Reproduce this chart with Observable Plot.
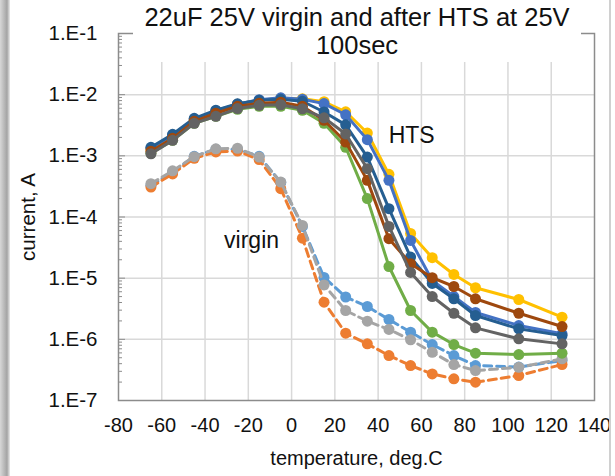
<!DOCTYPE html>
<html><head><meta charset="utf-8">
<script src="https://cdn.jsdelivr.net/npm/d3@7"></script>
<script src="https://cdn.jsdelivr.net/npm/@observablehq/plot@0.6"></script>
<style>
body{margin:0;background:#fff;}
#wrap{position:relative;width:615px;height:476px;overflow:hidden;font-family:"Liberation Sans",Arial,sans-serif;}
#shadow{position:absolute;left:0;top:0;width:10px;height:476px;background:linear-gradient(to right,#d8d8d8,#a4a4a4 70%,#ececec);}
#redge{position:absolute;left:609px;top:0;width:2px;height:476px;background:#d0d0d0;}
#title{position:absolute;left:133px;top:3px;width:448px;height:59px;background:#fff;text-align:center;font-size:25.5px;line-height:28px;color:#111;}
</style></head>
<body><div id="wrap"><div id="chart"></div><div id="shadow"></div><div id="redge"></div><div id="title">22uF 25V virgin and after HTS at 25V<br>100sec</div></div>
<script>
// temperatures (deg.C)
const temps = [-65,-55,-45,-35,-25,-15,-5,5,15,25,35,45,55,65,75,85,105,125];
// HTS series (solid)
const htsGold     = [1.28e-3,2.08e-3,3.81e-3,5.35e-3,6.97e-3,8.09e-3,8.73e-3,8.57e-3,7.66e-3,5.25e-3,2.36e-3,4.98e-4,5.39e-5,2.16e-5,1.15e-5,6.97e-6,4.48e-6,2.30e-6];
const htsBlue     = [1.33e-3,2.17e-3,3.95e-3,5.45e-3,6.97e-3,8.26e-3,8.89e-3,8.41e-3,7.14e-3,4.69e-3,1.84e-3,3.97e-4,4.14e-5,9.17e-6,5.01e-6,2.75e-6,1.68e-6,1.23e-6];
const htsGreen    = [1.10e-3,1.79e-3,3.40e-3,4.43e-3,5.77e-3,6.46e-3,6.46e-3,5.56e-3,3.40e-3,1.38e-3,2.00e-4,1.55e-5,2.96e-6,1.31e-6,8.22e-7,5.93e-7,5.64e-7,5.93e-7];
const htsDarkBlue = [1.38e-3,2.25e-3,4.11e-3,5.56e-3,7.10e-3,8.09e-3,8.41e-3,7.80e-3,5.21e-3,3.21e-3,9.55e-4,1.37e-4,2.21e-5,8.19e-6,4.60e-6,2.45e-6,1.49e-6,1.15e-6];
const htsBrown    = [1.19e-3,1.93e-3,3.67e-3,4.97e-3,6.46e-3,7.23e-3,7.52e-3,6.46e-3,3.81e-3,1.68e-3,3.97e-4,4.42e-5,1.72e-5,1.02e-5,7.31e-6,4.60e-6,2.67e-6,1.62e-6];
const htsDarkGray = [1.08e-3,1.79e-3,3.40e-3,4.43e-3,5.93e-3,6.71e-3,6.84e-3,5.87e-3,4.19e-3,2.28e-3,6.17e-4,7.02e-5,1.24e-5,5.01e-6,2.67e-6,1.54e-6,1.02e-6,8.43e-7];
// virgin series (dashed)
const virginLightBlue = [3.29e-4,5.37e-4,9.82e-4,1.28e-3,1.28e-3,9.82e-4,3.68e-4,7.02e-5,1.03e-5,4.92e-6,3.44e-6,2.11e-6,1.31e-6,8.22e-7,5.43e-7,3.73e-7,3.52e-7,4.50e-7];
const virginOrange    = [3.08e-4,5.07e-4,9.10e-4,1.16e-3,1.20e-3,8.67e-4,2.90e-4,4.50e-5,4.05e-6,1.26e-6,8.43e-7,5.43e-7,3.73e-7,2.72e-7,2.26e-7,1.99e-7,2.56e-7,3.87e-7];
const virginGray      = [3.51e-4,5.68e-4,9.70e-4,1.30e-3,1.33e-3,9.55e-4,3.73e-4,7.29e-5,7.74e-6,2.96e-6,1.98e-6,1.45e-6,9.82e-7,6.15e-7,3.87e-7,3.08e-7,3.49e-7,4.80e-7];
// ticks
const xTicks = [-80,-60,-40,-20,0,20,40,60,80,100,120,140];
const yTicks = [1e-7,1e-6,1e-5,1e-4,1e-3,1e-2,1e-1];
// annotations
const annoText = ["HTS","virgin"];
const annoX = [55.5,-18.5];
const annoY = [2.15e-3,4.1e-5];

const series = [
  {name:"virgin blue", values: virginLightBlue, color:"#5B9BD5", dashed:true},
  {name:"virgin orange", values: virginOrange, color:"#ED7D31", dashed:true},
  {name:"virgin gray", values: virginGray, color:"#A5A5A5", dashed:true},
  {name:"HTS gold", values: htsGold, color:"#FFC000", dashed:false},
  {name:"HTS green", values: htsGreen, color:"#70AD47", dashed:false},
  {name:"HTS blue", values: htsBlue, color:"#4472C4", dashed:false},
  {name:"HTS dark blue", values: htsDarkBlue, color:"#255E91", dashed:false},
  {name:"HTS brown", values: htsBrown, color:"#9E480E", dashed:false},
  {name:"HTS dark gray", values: htsDarkGray, color:"#636363", dashed:false}
];

const minor = [];
for (let e = -7; e < -1; e++) for (let m = 2; m <= 9; m++) minor.push(m * Math.pow(10, e));

const seriesMarks = series.flatMap(s => {
  const data = temps.map((t, i) => ({t, v: s.values[i]}));
  return [
    Plot.line(data, {x: "t", y: "v", stroke: s.color, strokeWidth: 3, strokeDasharray: s.dashed ? "8,5" : null}),
    Plot.dot(data, {x: "t", y: "v", r: 5.5, fill: s.color, stroke: "none"})
  ];
});

const annos = annoText.map((txt, i) => ({txt, x: annoX[i], y: annoY[i]}));

const chart = Plot.plot({
  width: 615, height: 476,
  marginLeft: 118, marginRight: 21, marginTop: 33, marginBottom: 76,
  style: {fontFamily: "Liberation Sans, Arial, sans-serif", fontSize: "20px", color: "#111", background: "transparent"},
  x: {domain: [-80, 140]},
  y: {type: "log", domain: [1e-7, 1e-1]},
  marks: [
    Plot.gridX(xTicks.slice(1, -1), {stroke: "#d9d9d9", strokeOpacity: 1, strokeWidth: 1.5}),
    Plot.gridY(yTicks.slice(1, -1), {stroke: "#d9d9d9", strokeOpacity: 1, strokeWidth: 1.5}),
    Plot.frame({stroke: "#8c8c8c", strokeWidth: 1.5}),
    Plot.axisY(minor, {tickSize: -4, tickFormat: () => "", label: null, stroke: "#8c8c8c"}),
    Plot.axisY(yTicks, {tickSize: -7, tickFormat: () => "", label: null, stroke: "#8c8c8c"}),
    Plot.axisY(yTicks, {tickSize: 0, tickPadding: 21, fontSize: 20.5,
      tickFormat: d => "1.E" + Math.round(Math.log10(d)),
      label: "current, A", labelAnchor: "center", labelArrow: "none", labelOffset: 98}),
    Plot.axisX(xTicks, {tickSize: 0, tickPadding: 17, fontSize: 20,
      tickFormat: d => String(d),
      label: "temperature, deg.C", labelAnchor: "center", labelArrow: "none", labelOffset: 64}),
    ...seriesMarks,
    Plot.text(annos, {x: "x", y: "y", text: "txt", fontSize: 23, fill: "#111", textAnchor: "middle"})
  ]
});
document.getElementById("chart").appendChild(chart);
</script>
</body></html>
